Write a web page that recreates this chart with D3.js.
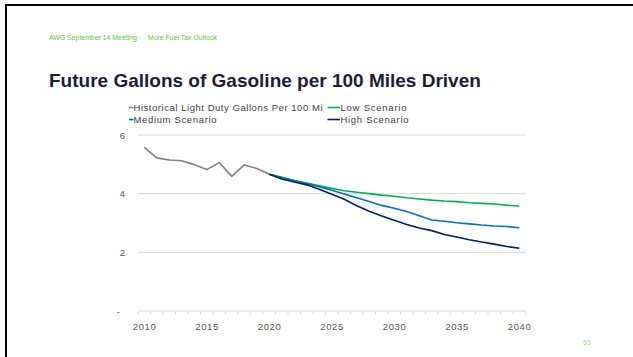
<!DOCTYPE html>
<html>
<head>
<meta charset="utf-8">
<script src="https://cdn.jsdelivr.net/npm/d3@7"></script>
<style>
  html, body { margin: 0; padding: 0; background: #fff; }
  svg { display: block; }
  text { font-family: "Liberation Sans", Arial, Helvetica, sans-serif; }
</style>
</head>
<body>
<svg id="chart" width="633" height="357"></svg>
<script>
// Years on the category axis
const years = d3.range(2010, 2041);
const xTickLabels = ["2010", "2015", "2020", "2025", "2030", "2035", "2040"];
const yTickValues = [0, 2, 4, 6];
const yTickLabels = ["-", "2", "4", "6"];

// Historical light duty gallons per 100 miles (2010–2020)
const historicYears = d3.range(2010, 2021);
const historicValues = [5.58, 5.22, 5.15, 5.12, 4.99, 4.82, 5.06, 4.59, 4.98, 4.86, 4.66];

// Scenario projections (2020–2040)
const scenarioYears = d3.range(2020, 2041);
const lowValues = [4.66, 4.56, 4.45, 4.36, 4.27, 4.18, 4.10, 4.05, 4.00, 3.95, 3.91,
                   3.86, 3.82, 3.78, 3.75, 3.73, 3.69, 3.67, 3.65, 3.61, 3.58];
const mediumValues = [4.66, 4.55, 4.44, 4.34, 4.24, 4.12, 3.99, 3.86, 3.73, 3.60, 3.50,
                      3.39, 3.25, 3.10, 3.06, 3.01, 2.97, 2.93, 2.90, 2.88, 2.84];
const highValues = [4.66, 4.50, 4.40, 4.30, 4.15, 3.98, 3.81, 3.59, 3.40, 3.24, 3.09,
                    2.95, 2.83, 2.74, 2.61, 2.52, 2.43, 2.35, 2.28, 2.20, 2.14];

const seriesNames = ["Historical Light Duty Gallons Per 100 Mi", "Low Scenario",
                     "Medium Scenario", "High Scenario"];
const seriesColors = ["#808080", "#00b050", "#0070c0", "#002060"];

const series = [
  { name: seriesNames[0], color: seriesColors[0], xs: historicYears, ys: historicValues },
  { name: seriesNames[1], color: seriesColors[1], xs: scenarioYears, ys: lowValues },
  { name: seriesNames[2], color: seriesColors[2], xs: scenarioYears, ys: mediumValues },
  { name: seriesNames[3], color: seriesColors[3], xs: scenarioYears, ys: highValues }
];

const svg = d3.select("#chart");

// Slide frame
svg.append("line").attr("x1", 5).attr("x2", 633).attr("y1", 5).attr("y2", 5)
  .attr("stroke", "#000").attr("stroke-width", 2);
svg.append("line").attr("x1", 6).attr("x2", 6).attr("y1", 4).attr("y2", 357)
  .attr("stroke", "#000").attr("stroke-width", 2);

// Slide header
svg.append("text").attr("x", 49).attr("y", 39.5)
  .attr("font-size", 6.9).attr("fill", "#6cbf45")
  .text("AWG September 14 Meeting");
svg.append("text").attr("x", 148).attr("y", 39.5)
  .attr("font-size", 6.9).attr("fill", "#6cbf45")
  .text("More Fuel Tax Outlook");

// Title
svg.append("text").attr("x", 49).attr("y", 86.5)
  .attr("font-size", 19).attr("font-weight", "bold").attr("fill", "#1c1c3a")
  .text("Future Gallons of Gasoline per 100 Miles Driven");

// Page number
svg.append("text").attr("x", 583).attr("y", 344.5)
  .attr("font-size", 7).attr("fill", "#a6d68a")
  .text("55");

// Scales
const x = d3.scaleBand().domain(years).range([138, 525.5]).padding(0);
const y = d3.scaleLinear().domain([0, 6]).range([311, 135]);
const cx = yr => x(yr) + x.bandwidth() / 2;

// Gridlines
const grid = svg.append("g");
grid.selectAll("line").data(yTickValues.filter(v => v > 0)).join("line")
  .attr("x1", x.range()[0]).attr("x2", x.range()[1])
  .attr("y1", d => y(d)).attr("y2", d => y(d))
  .attr("stroke", "#d9d9d9").attr("stroke-width", 1);

// Y axis labels
const yAxis = d3.axisLeft(y).tickValues(yTickValues)
  .tickFormat((d, i) => yTickLabels[i]).tickSize(0).tickPadding(13);
const gy = svg.append("g").attr("transform", `translate(${x.range()[0]},0)`).call(yAxis);
gy.select(".domain").remove();
gy.selectAll("text").attr("font-size", 9.5).attr("fill", "#595959")
  .attr("font-family", "Liberation Sans, Arial, sans-serif");
gy.selectAll(".tick").filter(d => d === 0).select("text").attr("dx", -5);

// X axis: baseline, boundary ticks and labels
const gx = svg.append("g").attr("transform", `translate(0,${y(0)})`);
gx.append("line").attr("x1", x.range()[0]).attr("x2", x.range()[1])
  .attr("stroke", "#d9d9d9").attr("stroke-width", 1);
const boundaries = years.map(yr => x(yr)).concat([x.range()[1]]);
gx.selectAll("line.tk").data(boundaries).join("line").attr("class", "tk")
  .attr("x1", d => d).attr("x2", d => d).attr("y1", 0).attr("y2", 3.5)
  .attr("stroke", "#d9d9d9").attr("stroke-width", 1);
gx.selectAll("text").data(xTickLabels).join("text")
  .attr("x", d => cx(+d)).attr("y", 18.5)
  .attr("text-anchor", "middle").attr("font-size", 9.5).attr("fill", "#595959")
  .attr("textLength", 23).attr("lengthAdjust", "spacing")
  .text(d => d);

// Lines
const line = d3.line().x(d => cx(d[0])).y(d => y(d[1]));
svg.append("g").selectAll("path").data(series).join("path")
  .attr("d", s => line(s.xs.map((yr, i) => [yr, s.ys[i]])))
  .attr("fill", "none")
  .attr("stroke", s => s.color)
  .attr("stroke-width", 1.6)
  .attr("stroke-linejoin", "round");

// Legend (two columns, two rows)
const legendPos = [
  { lx1: 129, lx2: 133.5, tx: 133.5, ty: 107.5, w: 189 },
  { lx1: 327.5, lx2: 340, tx: 340.5, ty: 107.5, w: 66 },
  { lx1: 129, lx2: 133.5, tx: 133.5, ty: 119.5, w: 83 },
  { lx1: 327.5, lx2: 340, tx: 340.5, ty: 119.5, w: 68 }
];
const legend = svg.append("g");
series.forEach((s, i) => {
  const p = legendPos[i];
  legend.append("line").attr("x1", p.lx1).attr("x2", p.lx2).attr("y1", p.ty).attr("y2", p.ty)
    .attr("stroke", s.color).attr("stroke-width", 1.6);
  legend.append("text").attr("x", p.tx).attr("y", p.ty + 3.3)
    .attr("font-size", 9.5).attr("fill", "#404040")
    .attr("textLength", p.w).attr("lengthAdjust", "spacing")
    .text(s.name);
});
</script>
</body>
</html>
